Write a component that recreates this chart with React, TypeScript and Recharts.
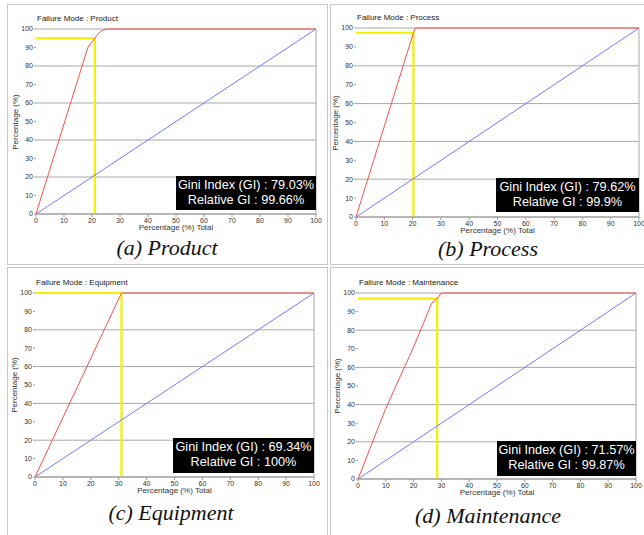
import React from 'react';
import { LineChart, Line, XAxis, YAxis, CartesianGrid, ReferenceLine } from 'recharts';

// cumulative share of failures (y) vs share of causes (x), one list per failure mode
const productX = [0, 18.5, 20, 21, 22, 23, 24, 25, 100];
const productY = [0, 90, 93, 95, 97, 98.5, 99.5, 100, 100];
const processX = [0, 20.3, 21, 100];
const processY = [0, 97.5, 100, 100];
const equipmentX = [0, 31, 100];
const equipmentY = [0, 100, 100];
const maintenanceX = [0, 10, 20, 26.5, 28.5, 30, 100];
const maintenanceY = [0, 38, 71, 94.5, 97, 100, 100];

// line of equality
const equalityX = [0, 100];
const equalityY = [0, 100];

// yellow marker: x cut, y level
const markerX = [21, 20.3, 31, 28.5];
const markerY = [95, 97.5, 100, 97];

const modes = ['Product', 'Process', 'Equipment', 'Maintenance'];
const captions = ['(a) Product', '(b) Process', '(c) Equipment', '(d) Maintenance'];
const giniIndex = ['79.03%', '79.62%', '69.34%', '71.57%'];
const relativeGi = ['99.66%', '99.9%', '100%', '99.87%'];
const ticks = [0, 10, 20, 30, 40, 50, 60, 70, 80, 90, 100];

const SANS = '"Liberation Sans", Arial, sans-serif';

const toPoints = (xs: number[], ys: number[]) => xs.map((x, i) => ({ x, y: ys[i] }));

// plot rectangles in page pixels
const plots = [
  { x0: 36, x1: 316, y0: 29, y1: 214, box: { w: 140, h: 34, gap: 4 }, capX: 167, capY: 236 },
  { x0: 356, x1: 639, y0: 28, y1: 217, box: { w: 143, h: 34, gap: 5 }, capX: 488, capY: 237 },
  { x0: 35, x1: 314, y0: 293, y1: 477, box: { w: 141, h: 35, gap: 4 }, capX: 171, capY: 501 },
  { x0: 358, x1: 636, y0: 293, y1: 479, box: { w: 139, h: 35, gap: 3 }, capX: 488, capY: 504 },
];

const lorenz = [
  toPoints(productX, productY),
  toPoints(processX, processY),
  toPoints(equipmentX, equipmentY),
  toPoints(maintenanceX, maintenanceY),
];

function Panel({ idx }: { idx: number }) {
  const p = plots[idx];
  const w = p.x1 - p.x0;
  const h = p.y1 - p.y0;
  const marker = [
    { x: 0, y: markerY[idx] },
    { x: markerX[idx], y: markerY[idx] },
    { x: markerX[idx], y: 0 },
  ];
  const tickStyle = { fontSize: 7, fill: '#333', fontFamily: SANS };

  return (
    <>
      <div style={{ position: 'absolute', left: p.x0 - 36, top: p.y0 - 29 }}>
        <LineChart
          width={w + 42}
          height={h + 50}
          margin={{ top: 29, right: 6, left: 16, bottom: 5 }}
        >
          <CartesianGrid vertical={false} stroke="#a8a8a8" horizontalValues={ticks} />
          <XAxis
            type="number"
            dataKey="x"
            domain={[0, 100]}
            ticks={ticks}
            height={16}
            tick={tickStyle}
            tickSize={3}
            tickMargin={1}
            stroke="#999"
            allowDuplicatedCategory={false}
          />
          <YAxis
            type="number"
            dataKey="y"
            domain={[0, 100]}
            ticks={ticks}
            width={20}
            tick={tickStyle}
            tickSize={2}
            tickMargin={1}
            axisLine={false}
            stroke="#999"
          />
          <ReferenceLine x={100} stroke="#a8a8a8" />
          <Line data={marker} dataKey="y" stroke="#f0f000" strokeWidth={2.2} dot={false} isAnimationActive={false} />
          <Line
            data={toPoints(equalityX, equalityY)}
            dataKey="y"
            stroke="#7777ff"
            strokeWidth={1}
            dot={false}
            isAnimationActive={false}
          />
          <Line data={lorenz[idx]} dataKey="y" stroke="#ff4c4c" strokeWidth={1} dot={false} isAnimationActive={false} />
        </LineChart>
      </div>
      <div
        style={{
          position: 'absolute',
          left: p.x0 + 1,
          top: p.y0 - 15,
          fontFamily: SANS,
          fontSize: 8,
          color: '#222',
          whiteSpace: 'nowrap',
        }}
      >
        Failure Mode : {modes[idx]}
      </div>
      <div
        style={{
          position: 'absolute',
          left: p.x0 - 60,
          width: 80,
          top: p.y0 + h / 2 - 5,
          textAlign: 'center',
          transform: 'rotate(-90deg)',
          fontFamily: SANS,
          fontSize: 8,
          color: '#333',
          lineHeight: '10px',
        }}
      >
        Percentage (%)
      </div>
      <div
        style={{
          position: 'absolute',
          left: p.x0,
          width: w,
          top: p.y1 + 9,
          textAlign: 'center',
          fontFamily: SANS,
          fontSize: 8,
          color: '#333',
          lineHeight: '10px',
        }}
      >
        Percentage (%) Total
      </div>
      <div
        style={{
          position: 'absolute',
          left: p.x1 - p.box.w,
          top: p.y1 - p.box.gap - p.box.h,
          width: p.box.w,
          height: p.box.h,
          background: '#000',
          color: '#fff',
          fontFamily: SANS,
          fontSize: 12.7,
          lineHeight: '15px',
          textAlign: 'center',
          paddingTop: 2,
          boxSizing: 'border-box',
          whiteSpace: 'nowrap',
        }}
      >
        Gini Index (GI) : {giniIndex[idx]}
        <br />
        Relative GI : {relativeGi[idx]}
      </div>
      <div
        style={{
          position: 'absolute',
          left: p.capX - 120,
          width: 240,
          top: p.capY,
          textAlign: 'center',
          fontFamily: '"Liberation Serif", "Times New Roman", serif',
          fontStyle: 'italic',
          fontSize: 22,
          lineHeight: '24px',
          color: '#111',
        }}
      >
        {captions[idx]}
      </div>
    </>
  );
}

export default function App() {
  const frame = { position: 'absolute' as const, border: '1px solid #c8c8c8' };
  return (
    <div
      style={{
        position: 'absolute',
        left: 0,
        top: 0,
        width: 644,
        height: 535,
        background: '#fff',
        overflow: 'hidden',
      }}
    >
      <div style={{ ...frame, left: 7, top: 4, width: 319, height: 259 }} />
      <div style={{ ...frame, left: 330, top: 4, width: 320, height: 259 }} />
      <div style={{ ...frame, left: 7, top: 267, width: 319, height: 280 }} />
      <div style={{ ...frame, left: 330, top: 267, width: 320, height: 280 }} />
      {[0, 1, 2, 3].map((i) => (
        <Panel key={i} idx={i} />
      ))}
    </div>
  );
}
